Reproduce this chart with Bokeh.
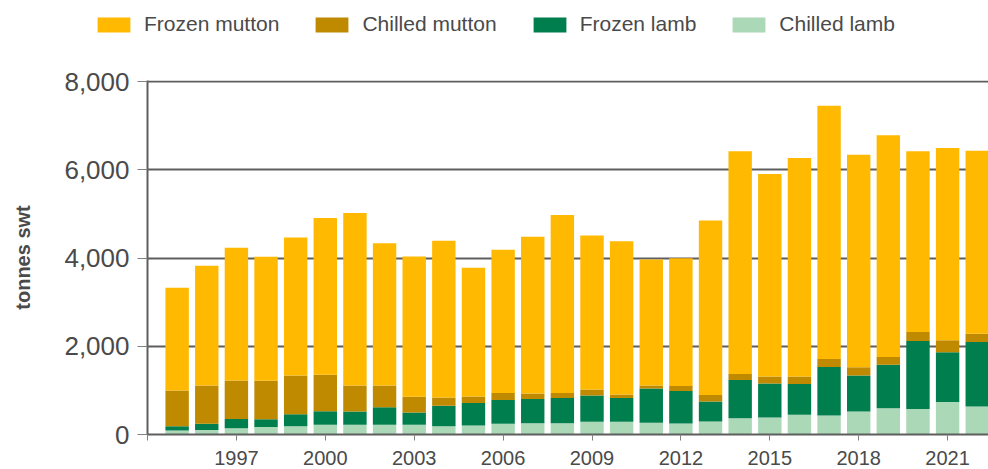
from bokeh.plotting import figure
from bokeh.layouts import column
from bokeh.models import (ColumnDataSource, Range1d, FixedTicker, NumeralTickFormatter,
                          Legend, LegendItem)
from bokeh.embed import file_html
from bokeh.resources import INLINE

years = list(range(1995, 2023))
chilled_lamb = [88, 103, 144, 170, 189, 220, 220, 220, 220, 189, 205, 242, 258, 258,
                288, 288, 265, 250, 295, 371, 386, 447, 432, 523, 598, 576, 735, 636]
frozen_lamb = [98, 139, 205, 175, 273, 310, 303, 400, 280, 463, 507, 538, 545, 568,
               598, 538, 780, 735, 455, 864, 773, 697, 1098, 818, 986, 1545, 1129, 1462]
chilled_mutton = [814, 872, 878, 875, 879, 827, 591, 494, 356, 189, 152, 160, 129, 114,
                  137, 83, 69, 113, 144, 136, 159, 174, 182, 182, 173, 204, 272, 190]
frozen_mutton = [2330, 2712, 3007, 2810, 3129, 3552, 3909, 3227, 3184, 3553, 2916, 3249, 3553, 4037,
                 3492, 3477, 2856, 2902, 3962, 5053, 4591, 4955, 5743, 4825, 5031, 4099, 4364, 4151]

series_names = ["Chilled lamb", "Frozen lamb", "Chilled mutton", "Frozen mutton"]
series_keys = ["cl", "fl", "cm", "fm"]
series_colors = ["#ABD8B6", "#007E4D", "#BF8A00", "#FFB900"]
x_ticks = [1994, 1997, 2000, 2003, 2006, 2009, 2012, 2015, 2018, 2021]
y_ticks = [0, 2000, 4000, 6000, 8000]

source = ColumnDataSource(dict(year=years, cl=chilled_lamb, fl=frozen_lamb,
                               cm=chilled_mutton, fm=frozen_mutton))

FONT = "Liberation Sans"
TXT = "#4a4a4a"
LINE = "#5e5e5e"
LEG_H = 45

# ---- legend strip (separate figure so the legend is not clipped by the chart frame) ----
pl = figure(width=988, height=LEG_H, output_backend="svg", toolbar_location=None,
            x_range=Range1d(0, 1), y_range=Range1d(0, 1),
            min_border_left=0, min_border_right=0, min_border_top=0, min_border_bottom=0)
pl.axis.visible = False
pl.grid.grid_line_color = None
pl.outline_line_color = None
# same data, out of the strip's visible range: only the legend swatches show
swatches = pl.vbar_stack(series_keys, x="year", width=0.79, color=series_colors,
                         line_color=None, source=source)
leg_x = 93
if "frame_align" in pl.properties():
    pl.frame_align = False
else:
    leg_x = 93 - 147
items = [LegendItem(label=series_names[i], renderers=[swatches[i]]) for i in [3, 2, 1, 0]]
legend = Legend(items=items, orientation="horizontal", location=(leg_x, 9),
                glyph_width=41, glyph_height=19, label_standoff=10, spacing=32,
                padding=0, margin=0, border_line_color=None, background_fill_alpha=0,
                label_text_font=FONT, label_text_font_size="21px", label_text_color=TXT)
pl.add_layout(legend, "center")

# ---- main chart ----
p = figure(width=988, height=469 - LEG_H, output_backend="svg", toolbar_location=None,
           x_range=Range1d(1994, 2022.38), y_range=Range1d(0, 8030),
           min_border_left=147, min_border_right=0, min_border_top=80 - LEG_H,
           min_border_bottom=35)
p.outline_line_color = None
if "frame_align" in p.properties():
    p.frame_align = False

p.vbar_stack(series_keys, x="year", width=0.79, color=series_colors,
             line_color=None, source=source)

p.xaxis.ticker = FixedTicker(ticks=x_ticks)
p.xaxis.major_label_overrides = {1994: ""}
p.yaxis.ticker = FixedTicker(ticks=y_ticks)
p.yaxis.formatter = NumeralTickFormatter(format="0,0")
for ax in (p.xaxis, p.yaxis):
    ax.axis_line_color = LINE
    ax.axis_line_width = 2
    ax.major_tick_line_color = "#808080"
    ax.major_tick_line_width = 1
    ax.minor_tick_line_color = None
    ax.major_tick_in = 0
    ax.major_label_text_font = FONT
    ax.major_label_text_color = TXT
p.xaxis.major_tick_out = 6
p.xaxis.major_label_standoff = 10
p.xaxis.major_label_text_font_size = "20px"
p.yaxis.major_tick_out = 10
p.yaxis.major_label_standoff = 8
p.yaxis.major_label_text_font_size = "26px"
p.yaxis.axis_label = "tonnes swt"
p.yaxis.axis_label_text_font = FONT
p.yaxis.axis_label_text_font_size = "20px"
p.yaxis.axis_label_text_font_style = "bold"
p.yaxis.axis_label_text_color = TXT
p.yaxis.axis_label_standoff = 27

p.xgrid.grid_line_color = None
p.ygrid.ticker = FixedTicker(ticks=y_ticks[1:])
p.ygrid.grid_line_color = LINE
p.ygrid.grid_line_width = 2

layout = column(pl, p, spacing=0)
open("out.html", "w").write(file_html(layout, INLINE))
